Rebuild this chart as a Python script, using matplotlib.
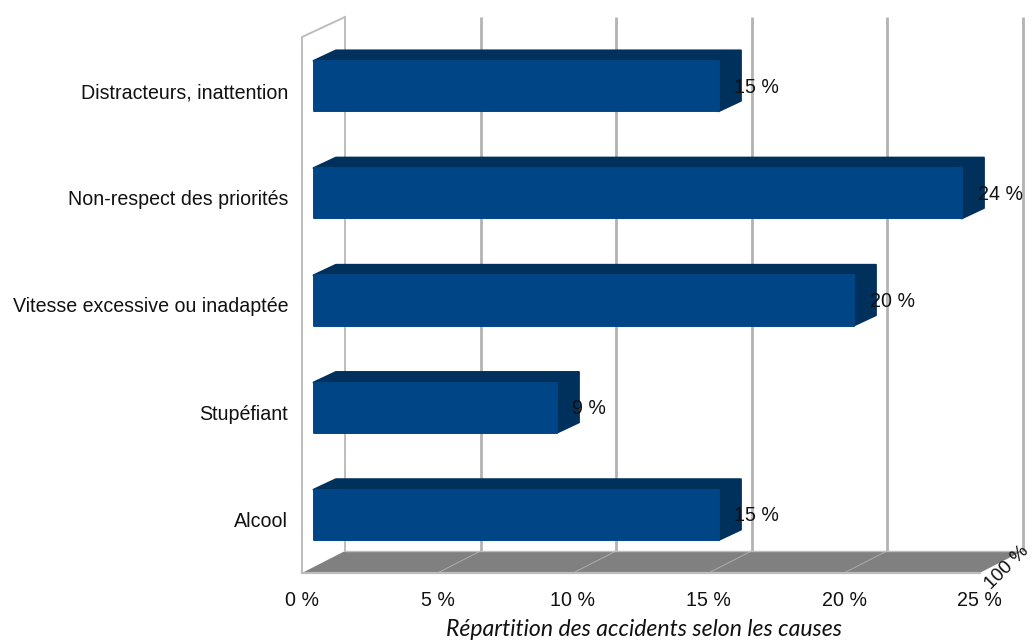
import matplotlib
matplotlib.use("Agg")
import matplotlib.pyplot as plt
from matplotlib.patches import Polygon
from matplotlib.transforms import ScaledTranslation, Affine2D

categories = ["Alcool", "Stupéfiant", "Vitesse excessive ou inadaptée",
              "Non-respect des priorités", "Distracteurs, inattention"]
values = [15, 9, 20, 24, 15]
value_labels = ["15 %", "9 %", "20 %", "24 %", "15 %"]
x_ticks = [0, 5, 10, 15, 20, 25]
x_tick_labels = ["0 %", "5 %", "10 %", "15 %", "20 %", "25 %"]
x_title = "Répartition des accidents selon les causes"
depth_label = "100 %"

FRONT, DARK, GRID, FLOOR = "#004586", "#00305C", "#B3B3B3", "#808080"
W, H, DPI = 1034, 642, 100
FS = 14.1
plt.rcParams["font.family"] = ["Liberation Sans", "DejaVu Sans"]

fig = plt.figure(figsize=(W / DPI, H / DPI), dpi=DPI)
L, R, T, B = 302, 979.5, 37, 573
ax = fig.add_axes([L / W, 1 - B / H, (R - L) / W, (B - T) / H])
ax.set_xlim(0, 25)
ax.set_ylim(-0.5, 4.5)
for s in ax.spines.values():
    s.set_visible(False)

PX = (R - L) / 25
PY = (B - T) / 5

def off(dx, dy):
    return ax.transData + ScaledTranslation(dx / DPI, dy / DPI, fig.dpi_scale_trans)

# chart box depth (px)
BX, BY, WALL = 43, 22, 20
top = 4.5
bottom = -0.5
back = off(BX, 0)

# floor
ax.add_patch(Polygon([(0, bottom), (25, bottom), (25 + BX / PX, bottom + BY / PY),
                      (BX / PX, bottom + BY / PY)], closed=True, fc=FLOOR, ec="none",
                     clip_on=False, zorder=1))
for t in x_ticks[1:-1]:
    ax.plot([t, t + BX / PX], [bottom, bottom + BY / PY], color="#A8A8A8", lw=0.8,
            clip_on=False, zorder=1.5)
ax.plot([0, 25], [bottom, bottom], color="#BDBDBD", lw=1.6, clip_on=False, zorder=2)
ax.plot([BX / PX, 25 + BX / PX], [bottom + BY / PY] * 2, color="#BDBDBD", lw=1.0,
        clip_on=False, zorder=2)
# left wall
ax.plot([0, 0, BX / PX, BX / PX],
        [bottom, top, top + WALL / PY, bottom + BY / PY],
        color="#BDBDBD", lw=1.4, clip_on=False, zorder=2, solid_joinstyle="miter")
# back grid lines
ax.vlines(x_ticks[1:], bottom + BY / PY, top + WALL / PY, colors=GRID, lw=2.0, transform=back,
          clip_on=False, zorder=1.2)

# bars
BAR_H = 0.47
DX, DY = 22.5 / PX, 10.5 / PY
bar_tr = Affine2D().scale(27.0 / PX, 1) + ax.transData + \
    ScaledTranslation(11.5 / DPI, 4.5 / DPI, fig.dpi_scale_trans)
for y, v in zip(range(len(values)), values):
    y0, y1 = y - BAR_H / 2, y + BAR_H / 2
    ax.add_patch(Polygon([(0, y1), (DX, y1 + DY), (v + DX, y1 + DY), (v + DX, y0 + DY),
                          (v, y0), (v, y1)], closed=True, fc=DARK, ec=DARK, lw=1.4,
                         joinstyle="round", transform=bar_tr, clip_on=False, zorder=3))
ax.barh(range(len(values)), values, height=BAR_H, color=FRONT, edgecolor=FRONT, lw=1.4,
        joinstyle="round", transform=bar_tr, clip_on=False, zorder=4)
for y, v, lab in zip(range(len(values)), values, value_labels):
    ax.annotate(lab, (v, y), xytext=(26 * 0.72, 3.5 * 0.72), textcoords="offset points",
                ha="left", va="center", fontsize=FS, color="#111111",
                zorder=5, annotation_clip=False)

ax.set_xticks(x_ticks, x_tick_labels, fontsize=FS, color="#111111")
ax.set_yticks(range(len(categories)), categories, fontsize=FS, color="#111111")
ax.tick_params(axis="x", length=0, pad=13)
ax.tick_params(axis="y", length=0, pad=10)
ax.set_xlabel(x_title, family=["Lato", "DejaVu Sans"], style="italic", fontsize=16.6,
              color="#111111", va="center")
ax.xaxis.set_label_coords((644 - L) / (R - L), -(630 - B) / (B - T))
ax.text(25, bottom, depth_label, transform=off(27.5, 5), rotation=45, fontsize=13.8,
        ha="center", va="center", color="#111111", rotation_mode="anchor", clip_on=False)

fig.savefig("out.png", dpi=DPI)
